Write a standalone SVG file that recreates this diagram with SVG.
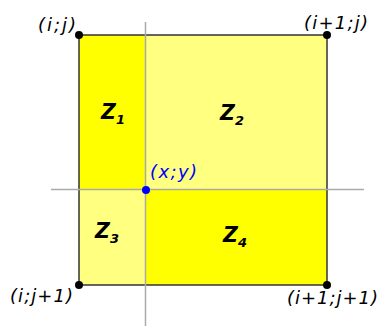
<svg xmlns="http://www.w3.org/2000/svg" width="382" height="327" viewBox="0 0 382 327">
<style>
.lbl{font-family:"DejaVu Sans",Verdana,sans-serif;font-style:italic;font-size:18px;fill:#000}
.z{font-family:"DejaVu Sans",Verdana,sans-serif;font-style:italic;font-weight:bold;font-size:20.5px;fill:#000}
.sub{font-size:13px}
.grid{stroke:#aaa;stroke-width:1.5}
</style>
<rect width="382" height="327" fill="#fff"/>
<g id="z1"><rect x="79" y="35" width="67" height="155" fill="#ffff00"/><text class="z" x="101" y="119">Z<tspan class="sub" dy="5">1</tspan></text></g>
<g id="z2"><rect x="146" y="35" width="181" height="155" fill="#ffff80"/><text class="z" x="220" y="120">Z<tspan class="sub" dy="5">2</tspan></text></g>
<g id="z3"><rect x="79" y="190" width="67" height="95" fill="#ffff80"/><text class="z" x="95" y="238">Z<tspan class="sub" dy="5">3</tspan></text></g>
<g id="z4"><rect x="146" y="190" width="181" height="95" fill="#ffff00"/><text class="z" x="223" y="242">Z<tspan class="sub" dy="5">4</tspan></text></g>
<g id="frame"><rect x="79" y="35" width="248" height="250" fill="none" stroke="#333" stroke-width="1.5"/></g>
<g id="connectors">
<line class="grid" x1="51" y1="189.5" x2="364" y2="189.5"/>
<line class="grid" x1="145.5" y1="22" x2="145.5" y2="326"/>
</g>
<g id="p-ij"><circle cx="79" cy="35" r="4" fill="#000"/><text class="lbl" x="38" y="31" textLength="38" lengthAdjust="spacing">(i;j)</text></g>
<g id="p-i1j"><circle cx="327" cy="35" r="4" fill="#000"/><text class="lbl" x="304" y="29" textLength="64" lengthAdjust="spacing">(i+1;j)</text></g>
<g id="p-ij1"><circle cx="79" cy="285" r="4" fill="#000"/><text class="lbl" x="10" y="302" textLength="63" lengthAdjust="spacing">(i;j+1)</text></g>
<g id="p-i1j1"><circle cx="327" cy="285" r="4" fill="#000"/><text class="lbl" x="287" y="304" textLength="91" lengthAdjust="spacing">(i+1;j+1)</text></g>
<g id="p-xy"><circle cx="146" cy="190" r="4" fill="#0000ff"/><text class="lbl" x="150" y="178" textLength="47" lengthAdjust="spacing" style="fill:#0000ff">(x;y)</text></g>
</svg>
